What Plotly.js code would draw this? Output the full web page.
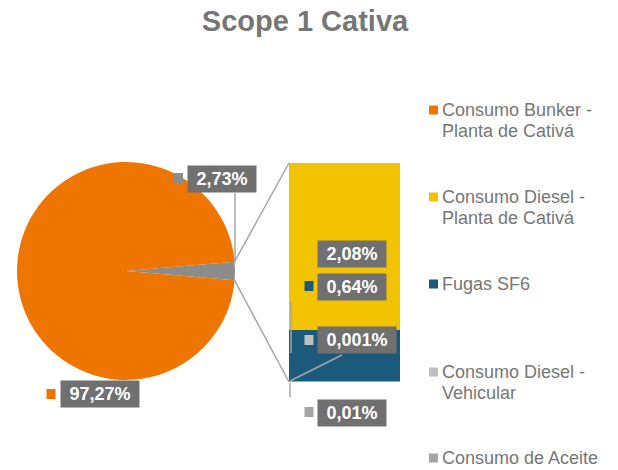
<!DOCTYPE html>
<html><head><meta charset="utf-8">
<script src="https://cdn.plot.ly/plotly-3.0.1.min.js"></script>
<style>html,body{margin:0;padding:0;background:#fff}#chart{width:618px;height:470px}</style>
</head><body><div id="chart"></div>
<script>
// ---- data ----
const categories = ['Consumo Bunker - Planta de Cativá', 'Consumo Diesel - Planta de Cativá', 'Fugas SF6', 'Consumo Diesel - Vehicular', 'Consumo de Aceite'];
const legendLines = [['Consumo Bunker -', 'Planta de Cativá'], ['Consumo Diesel -', 'Planta de Cativá'], ['Fugas SF6'], ['Consumo Diesel -', 'Vehicular'], ['Consumo de Aceite']];
const values = [97.27, 2.08, 0.64, 0.001, 0.01];   // percent
const colors = ['#EE7600', '#F2C300', '#1B5A7A', '#BFBFBF', '#A5A5A5'];
const otherLabel = 'Otros';
const otherColor = '#8C8C8C';
const title = 'Scope 1 Cativa';

// ---- layout geometry (pixels) ----
const W = 618, H = 470;
const px = x => x / W, py = y => 1 - y / H;
const pie = {cx: 126, cy: 271, r: 109};
const bar = {left: 289, right: 400, top: 163, bottom: 382};
// label boxes: [left, centerY, markerCenterX, markerCenterY]
const otherPos = [187, 178.5, 178.5, 178];
const labelPos = [[60, 393.5, 51, 394], [317, 254, 309, 254], [317, 287, 309, 286], [317, 339.5, 309, 340], [317, 412.5, 309, 412]];
// legend: marker centre x, text left x, first-line centre y per item, line step
const leg = {mx: 433.5, tx: 440, ys: [110, 197, 284, 372, 458], step: 21};

const otherVal = values.slice(1).reduce((a, b) => a + b, 0);
const fmt = v => (Math.abs(v) < 0.01 ? String(v) : v.toFixed(2)).replace('.', ',') + '%';
const otherDeg = otherVal / (otherVal + values[0]) * 360;

const traces = [];
traces.push({
  type: 'pie', values: [otherVal, values[0]], labels: [otherLabel, categories[0]],
  marker: {colors: [otherColor, colors[0]], line: {width: 0}},
  sort: false, direction: 'clockwise', rotation: 90 - otherDeg / 2,
  textinfo: 'none', hoverinfo: 'label+percent', showlegend: false,
  domain: {x: [px(pie.cx - pie.r), px(pie.cx + pie.r)], y: [py(pie.cy + pie.r), py(pie.cy - pie.r)]}
});
[4, 3, 2, 1].forEach(i => traces.push({
  type: 'bar', x: [0], y: [values[i]], name: categories[i], width: 1,
  marker: {color: colors[i], line: {width: 0}}, showlegend: false, hoverinfo: 'name+y'
}));

// measure text for boxes
const ctx = document.createElement('canvas').getContext('2d');
ctx.font = 'bold 18px "Liberation Sans"';
const FAM = 'Liberation Sans, Arial, sans-serif';
const boxFont = {family: FAM, size: 18, color: '#ffffff', weight: 700};
const annotations = [], shapes = [];
const square = (cx, cy, w, hgt, color) => ({type: 'rect', xref: 'paper', yref: 'paper', x0: px(cx - w / 2), x1: px(cx + w / 2),
    y0: py(cy + hgt / 2), y1: py(cy - hgt / 2), fillcolor: color, line: {width: 0}});
function addLabel(text, pos, mcolor) {
  annotations.push({xref: 'paper', yref: 'paper', x: px(pos[0]), y: py(pos[1]), xanchor: 'left', yanchor: 'middle',
    text: text, showarrow: false, font: boxFont, bgcolor: '#707070', borderpad: 3,
    width: Math.ceil(ctx.measureText(text).width) + 10, align: 'center'});
  shapes.push(square(pos[2], pos[3], 9, 10, mcolor));
}
addLabel(fmt(otherVal), otherPos, otherColor);
values.forEach((v, i) => addLabel(fmt(v), labelPos[i], colors[i]));

// legend drawn as text + squares
legendLines.forEach((lines, i) => {
  shapes.push(square(leg.mx, leg.ys[i], 9, 9, colors[i]));
  lines.forEach((t, k) => annotations.push({xref: 'paper', yref: 'paper', x: px(leg.tx), y: py(leg.ys[i] + k * leg.step),
    xanchor: 'left', yanchor: 'middle', text: t, showarrow: false, align: 'left',
    font: {family: FAM, size: 18, color: '#767676'}}));
});

// connector and leader lines
const h = otherDeg / 2 * Math.PI / 180;
const lineStyle = {color: '#A6A6A6', width: 1.5};
const seg = (x0, y0, x1, y1) => ({type: 'line', xref: 'paper', yref: 'paper', x0: px(x0), y0: py(y0), x1: px(x1), y1: py(y1), line: lineStyle, layer: 'above'});
shapes.unshift(
  seg(pie.cx + pie.r * Math.cos(h), pie.cy - pie.r * Math.sin(h), bar.left, bar.top),
  seg(pie.cx + pie.r * Math.cos(h), pie.cy + pie.r * Math.sin(h), bar.left, bar.bottom),
  seg(235, 193, 235, 262),
  seg(291, 302, 291, 353),
  seg(290, 381, 342, 355),
  seg(290, 383, 290, 397)
);

const layout = {
  width: W, height: H, margin: {l: 0, r: 0, t: 0, b: 0},
  paper_bgcolor: '#ffffff', plot_bgcolor: 'rgba(0,0,0,0)',
  title: {text: title, x: 305 / W, y: py(21), xanchor: 'center', yanchor: 'middle',
    font: {family: FAM, size: 29, color: '#767676', weight: 700}},
  barmode: 'stack', bargap: 0, showlegend: false,
  xaxis: {domain: [px(bar.left), px(bar.right)], range: [-0.5, 0.5], visible: false, fixedrange: true},
  yaxis: {domain: [py(bar.bottom), py(bar.top)], range: [0, otherVal], visible: false, fixedrange: true},
  annotations: annotations, shapes: shapes
};
Plotly.newPlot('chart', traces, layout, {displayModeBar: false, staticPlot: true});
</script></body></html>
